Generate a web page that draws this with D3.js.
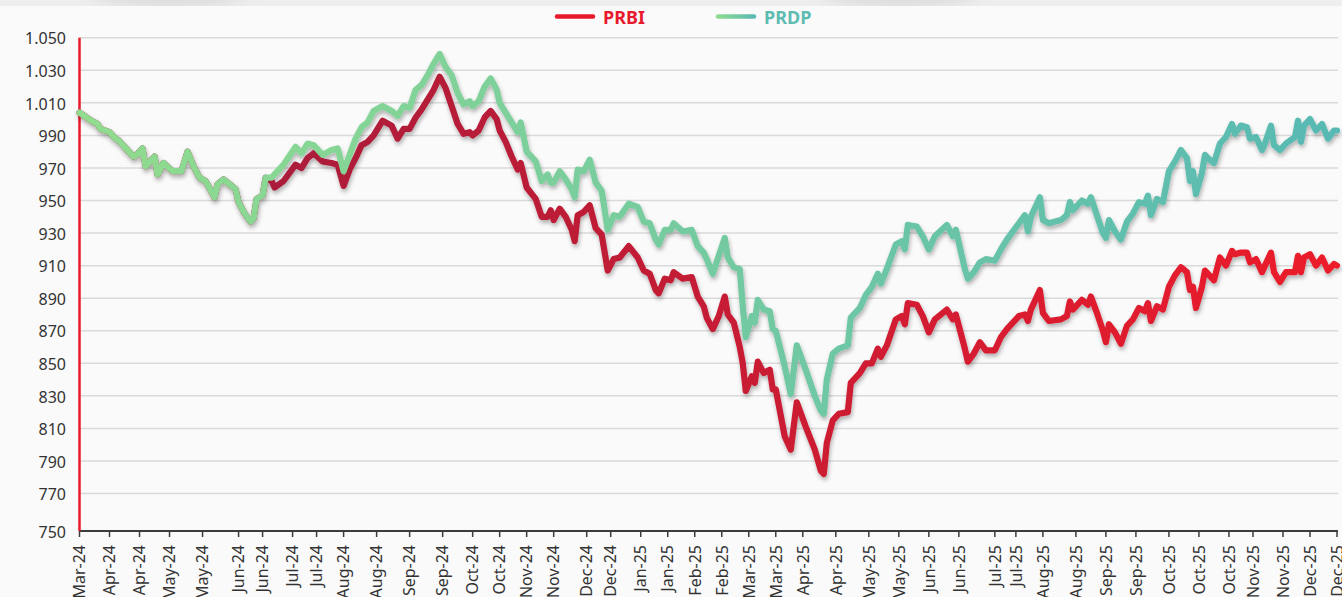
<!DOCTYPE html>
<html lang="en">
<head>
  <meta charset="UTF-8">
  <title>PRBI vs PRDP</title>
  <style>
    body { margin: 0; background: #efefef; font-family: "Noto Sans", "Open Sans", sans-serif; }
    #chart { width: 1342px; height: 597px; }
    .grid line { stroke: #dadada; stroke-width: 1.5px; }
    .tick-label { fill: #333; font-size: 16px; }
  </style>
</head>
<body>
  <div id="chart"></div>

  <script src="https://cdn.jsdelivr.net/npm/d3@7"></script>
  <script>
    const width = 1342, height = 597;

    // series (index = trading session)
    const seriesNames = ["PRBI", "PRDP"];

    // both series are identical until early June 2024
    const sharedSessions = [0, 4, 6, 7, 10, 12, 13, 16, 18, 19, 21, 22, 25, 26, 28, 31, 34, 36, 38, 40,
      42, 45, 46, 48, 50, 52, 53, 55, 57, 58, 59, 61, 62];
    const sharedValues = [1004, 999, 997, 994, 992, 988, 987, 981, 977, 978, 982, 971, 977, 966, 973, 968, 968, 980, 971, 964,
      962, 952, 960, 963, 960, 957, 949, 942, 937, 939, 951, 953, 964];

    const splitSessions = [64, 65, 68, 72, 74, 76, 78, 81, 84, 86, 88, 90, 92, 94, 96, 98, 101, 104, 106, 108,
      110, 112, 114, 116, 118, 120, 122, 124, 126, 128, 130, 131, 133, 135, 137, 139, 140, 142, 144, 146,
      147, 149, 152, 154, 156, 157, 158, 160, 162, 164, 165, 166, 168, 170, 172, 174, 176, 178, 180, 183,
      186, 188, 190, 192, 193, 195, 197, 198, 201, 204, 206, 208, 209, 211, 213, 215, 216, 218, 220, 221,
      222, 224, 225, 226, 228, 230, 231, 232, 235, 237, 239, 242, 245, 247, 248, 249, 251, 253, 256, 257,
      260, 262, 264, 266, 267, 269, 272, 274, 275, 276, 279, 281, 283, 285, 289, 291, 292, 295, 296, 298,
      300, 302, 305, 307, 309, 311, 313, 315, 316, 317, 320, 321, 323, 327, 329, 330, 331, 334, 336, 337,
      339, 341, 342, 343, 345, 347, 349, 351, 353, 355, 356, 357, 359, 361, 363, 365, 367, 369, 370, 371,
      372, 374, 375, 376, 378, 380, 382, 384, 385, 387, 389, 390, 392, 394, 395, 397, 398, 400, 402, 405,
      406, 407, 408, 410, 412, 414, 416, 418, 419];

    const prbiValues = [962, 958, 962, 972, 970, 976, 979, 974, 973, 972, 959, 969, 976, 984, 986, 990, 999, 996, 988, 994,
      994, 1001, 1006, 1012, 1018, 1026, 1019, 1008, 997, 991, 992, 990, 993, 1001, 1005, 1000, 993, 986, 977, 969,
      973, 958, 951, 940, 940, 944, 938, 945, 940, 932, 925, 941, 943, 947, 933, 929, 907, 914, 915, 922,
      915, 907, 905, 895, 893, 902, 901, 906, 902, 903, 891, 885, 878, 871, 879, 891, 880, 875, 860, 850,
      833, 842, 838, 851, 844, 846, 834, 834, 805, 797, 826, 811, 797, 784, 782, 801, 815, 819, 820, 838,
      844, 850, 850, 859, 854, 861, 877, 879, 874, 887, 886, 879, 869, 877, 883, 877, 880, 859, 851, 856,
      863, 858, 858, 866, 871, 875, 879, 880, 876, 883, 895, 881, 876, 877, 879, 888, 883, 889, 886, 891,
      881, 870, 863, 874, 869, 862, 873, 877, 884, 882, 887, 876, 885, 883, 897, 904, 909, 906, 895, 897,
      884, 897, 907, 905, 901, 915, 910, 919, 917, 918, 918, 912, 914, 906, 910, 918, 906, 900, 906, 906,
      916, 906, 915, 917, 910, 915, 907, 911, 910];

    const prdpValues = [964, 966, 972, 983, 979, 985, 984, 978, 981, 982, 968, 978, 988, 995, 998, 1005, 1008, 1005, 1002, 1008,
      1007, 1018, 1021, 1027, 1034, 1040, 1032, 1027, 1016, 1009, 1011, 1008, 1011, 1020, 1025, 1018, 1010, 1004, 998, 992,
      998, 980, 974, 962, 966, 961, 961, 968, 963, 957, 952, 969, 968, 975, 961, 956, 932, 941, 940, 948,
      946, 937, 936, 926, 923, 932, 932, 936, 931, 932, 922, 918, 914, 905, 916, 927, 915, 909, 908, 885,
      866, 879, 875, 889, 883, 882, 871, 870, 848, 831, 861, 846, 830, 821, 819, 840, 856, 859, 861, 878,
      884, 892, 897, 905, 899, 908, 923, 925, 920, 935, 934, 928, 920, 928, 935, 928, 932, 908, 902, 906,
      912, 914, 913, 920, 926, 931, 936, 941, 931, 940, 952, 938, 936, 938, 941, 949, 944, 950, 948, 952,
      941, 930, 927, 938, 931, 926, 937, 942, 949, 948, 953, 941, 951, 949, 968, 974, 981, 976, 962, 968,
      954, 967, 978, 976, 973, 985, 989, 997, 991, 996, 995, 988, 989, 981, 985, 996, 984, 981, 985, 989,
      999, 986, 996, 1000, 993, 997, 988, 993, 993];

    // x axis: one tick about every ten sessions
    const tickSessions = [0, 10, 20, 30, 41, 53, 61, 71, 79, 88, 99, 110, 121, 131, 140, 149, 158, 169, 177, 187,
      196, 205, 214, 223, 232, 241, 252, 263, 273, 283, 293, 305, 312, 321, 332, 342, 352, 363, 373, 383,
      391, 401, 410, 419];
    const tickLabels = ["Mar-24", "Apr-24", "Apr-24", "May-24", "May-24", "Jun-24", "Jun-24", "Jul-24", "Jul-24", "Aug-24",
      "Aug-24", "Sep-24", "Sep-24", "Oct-24", "Oct-24", "Nov-24", "Nov-24", "Dec-24", "Dec-24", "Jan-25",
      "Jan-25", "Feb-25", "Feb-25", "Mar-25", "Mar-25", "Apr-25", "Apr-25", "May-25", "May-25", "Jun-25",
      "Jun-25", "Jul-25", "Jul-25", "Aug-25", "Aug-25", "Sep-25", "Sep-25", "Oct-25", "Oct-25", "Oct-25",
      "Nov-25", "Nov-25", "Dec-25", "Dec-25"];

    // y axis
    const yDomain = [747, 1050];
    const yGridValues = [770, 790, 810, 830, 850, 870, 890, 910, 930, 950, 970, 990, 1010, 1030, 1050];
    const yBottomLabel = 750;

    const colors = {
      prbiStart: "#9f1a3d", prbiEnd: "#ec1a2b",
      prdpStart: "#91dc8e", prdpEnd: "#57b9b3",
      prbiText: "#e8192c", prdpText: "#5dbcb1"
    };

    const fmt = d3.formatLocale({ decimal: ",", thousands: ".", grouping: [3], currency: ["", ""] }).format(",d");

    function buildSeries() {
      const prbi = sharedSessions.map((s, i) => ({ s, v: sharedValues[i] }))
        .concat(splitSessions.map((s, i) => ({ s, v: prbiValues[i] })));
      const prdp = sharedSessions.map((s, i) => ({ s, v: sharedValues[i] }))
        .concat(splitSessions.map((s, i) => ({ s, v: prdpValues[i] })));
      return { prbi, prdp };
    }

    function createSVG() {
      const svg = d3.select("#chart").append("svg")
        .attr("width", width).attr("height", height);

      const defs = svg.append("defs");
      const shadow = defs.append("filter").attr("id", "lineShadow")
        .attr("x", "-5%").attr("y", "-20%").attr("width", "110%").attr("height", "140%");
      shadow.append("feDropShadow")
        .attr("dx", 1).attr("dy", 3).attr("stdDeviation", 2.2)
        .attr("flood-color", "#000").attr("flood-opacity", 0.3);

      defs.append("filter").attr("id", "blob")
        .append("feGaussianBlur").attr("stdDeviation", 10);

      // card background + the grey strip on top
      svg.append("rect").attr("width", width).attr("height", height).attr("fill", "#fafafa");
      svg.append("rect").attr("width", width).attr("height", 6).attr("fill", "#eeeeee");
      svg.append("ellipse").attr("cx", 170).attr("cy", -14).attr("rx", 80).attr("ry", 16)
        .attr("fill", "#000").attr("opacity", 0.12).attr("filter", "url(#blob)");
      svg.append("ellipse").attr("cx", 900).attr("cy", -14).attr("rx", 80).attr("ry", 16)
        .attr("fill", "#000").attr("opacity", 0.12).attr("filter", "url(#blob)");
      return svg;
    }

    function gradient(svg, id, x0, x1, c0, c1) {
      const g = svg.select("defs").append("linearGradient").attr("id", id)
        .attr("gradientUnits", "userSpaceOnUse")
        .attr("x1", x0).attr("x2", x1).attr("y1", 0).attr("y2", 0);
      g.append("stop").attr("offset", "0%").attr("stop-color", c0);
      g.append("stop").attr("offset", "100%").attr("stop-color", c1);
    }

    function drawAxes(svg, x, y) {
      const [x0, x1] = x.range();

      svg.append("g").attr("class", "grid")
        .selectAll("line").data(yGridValues).join("line")
        .attr("x1", x0).attr("x2", x1 + 1)
        .attr("y1", d => y(d)).attr("y2", d => y(d));

      // y labels
      svg.append("g").selectAll("text")
        .data(yGridValues.concat([yBottomLabel])).join("text")
        .attr("class", "tick-label")
        .attr("x", 66)
        .attr("y", d => d === yBottomLabel ? y(yDomain[0]) : y(d))
        .attr("dy", "0.42em")
        .attr("text-anchor", "end")
        .text(d => fmt(d));

      // x axis line + ticks
      const xa = svg.append("g");
      xa.append("line")
        .attr("x1", x0).attr("x2", x1 + 1)
        .attr("y1", y(yDomain[0])).attr("y2", y(yDomain[0]))
        .attr("stroke", "#3c3c3c").attr("stroke-width", 2);
      xa.selectAll(".tk").data(tickSessions).join("line").attr("class", "tk")
        .attr("x1", d => x(d)).attr("x2", d => x(d))
        .attr("y1", y(yDomain[0])).attr("y2", y(yDomain[0]) + 6)
        .attr("stroke", "#3c3c3c").attr("stroke-width", 1.5);
      // the labels run past the bottom edge, as in the original
      xa.selectAll("text").data(tickSessions).join("text")
        .attr("class", "tick-label")
        .attr("transform", d => `translate(${x(d)},${y(yDomain[0]) + 14}) rotate(-90)`)
        .attr("dy", "0.36em")
        .attr("text-anchor", "end")
        .text((d, i) => tickLabels[i]);

      // red y axis line
      svg.append("line")
        .attr("x1", x0).attr("x2", x0)
        .attr("y1", y(yDomain[1])).attr("y2", y(yDomain[0]))
        .attr("stroke", "#e8192c").attr("stroke-width", 2.5);
    }

    function drawLines(svg, x, y, series) {
      const line = d3.line().x(d => x(d.s)).y(d => y(d.v));
      const g = svg.append("g").attr("filter", "url(#lineShadow)");
      g.append("path").datum(series.prbi)
        .attr("d", line).attr("fill", "none")
        .attr("stroke", "url(#gradPRBI)").attr("stroke-width", 6.2)
        .attr("stroke-linejoin", "round").attr("stroke-linecap", "round");
      g.append("path").datum(series.prdp)
        .attr("d", line).attr("fill", "none")
        .attr("stroke", "url(#gradPRDP)").attr("stroke-width", 6.2)
        .attr("stroke-linejoin", "round").attr("stroke-linecap", "round");
    }

    function drawLegend(svg) {
      const items = [
        { name: seriesNames[0], x: 555, stroke: colors.prbiText, text: colors.prbiText },
        { name: seriesNames[1], x: 716, stroke: "url(#gradLegend)", text: colors.prdpText }
      ];
      gradient(svg, "gradLegend", 716, 756, colors.prdpStart, colors.prdpEnd);
      const g = svg.append("g");
      items.forEach(it => {
        g.append("line")
          .attr("x1", it.x + 2).attr("x2", it.x + 38).attr("y1", 16.5).attr("y2", 16.5)
          .attr("stroke", it.stroke).attr("stroke-width", 4.5).attr("stroke-linecap", "round");
        g.append("text")
          .attr("x", it.x + 48).attr("y", 23.5)
          .attr("fill", it.text)
          .style("font-size", "18px").style("font-weight", "bold")
          .text(it.name);
      });
    }

    function main() {
      const svg = createSVG();
      const x = d3.scaleLinear().domain([0, 419]).range([79.5, 1337]);
      const y = d3.scaleLinear().domain(yDomain).range([531, 37.7]);
      gradient(svg, "gradPRBI", x(0), x(419), colors.prbiStart, colors.prbiEnd);
      gradient(svg, "gradPRDP", x(0), x(419), colors.prdpStart, colors.prdpEnd);

      const series = buildSeries();
      drawAxes(svg, x, y);
      drawLines(svg, x, y, series);
      drawLegend(svg);
    }

    main();
  </script>
</body>
</html>
